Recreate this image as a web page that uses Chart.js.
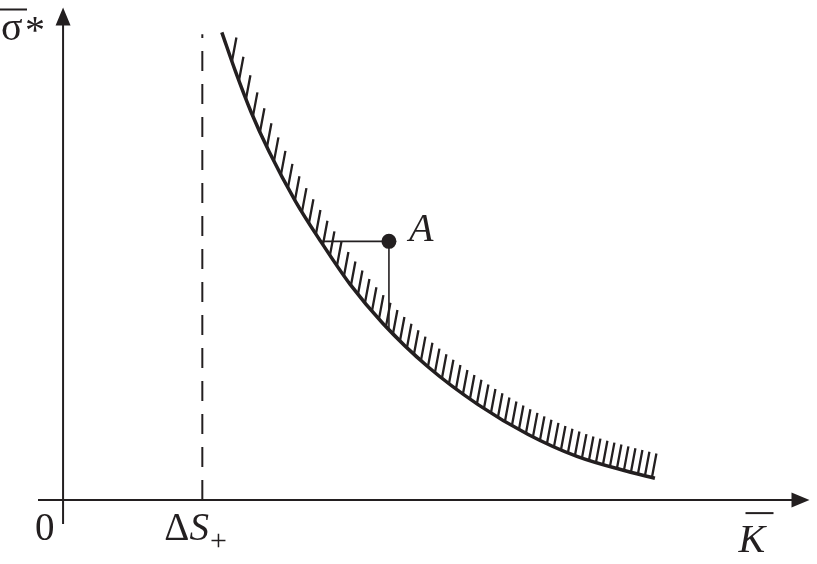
<!DOCTYPE html>
<html>
<head>
<meta charset="utf-8">
<script src="https://cdn.jsdelivr.net/npm/chart.js@4/dist/chart.umd.min.js"></script>
<style>
html,body{margin:0;padding:0;background:#fff;}
#wrap{width:817px;height:564px;position:relative;}
.fl{position:absolute;left:-9999px;top:0;font-family:"Liberation Serif";font-size:38px;}
</style>
</head>
<body>
<div class="fl">σΔS0 <i>KA</i></div>
<div id="wrap"><canvas id="c" width="817" height="564"></canvas></div>
<script>
// ---- data (arbitrary units: ΔS+ = 1 on the K axis) ----
const curveX = [1.14, 1.24, 1.35, 1.48, 1.67, 1.85, 2.06, 2.30, 2.62, 2.98, 3.34, 3.69, 4.05, 4.25];
const curveY = [4.70, 4.30, 3.90, 3.50, 3.00, 2.60, 2.17, 1.77, 1.34, 0.96, 0.66, 0.44, 0.29, 0.22];
const asymX = [1, 1];
const asymY = [0, 4.68];
const pointAX = [2.34];
const pointAY = [2.60];
const guideX = [1.85, 2.34, 2.34];
const guideY = [2.60, 2.60, 1.72];
const xAxisRange = [-0.18, 5.36];
const yAxisRange = [-0.24, 4.95];
const labels = { origin: '0', asym: 'ΔS', asymSub: '+', xTitle: 'K', yTitle: 'σ', yStar: '*', point: 'A' };

const INK = '#231f20';
const SERIF = '"Liberation Serif", "Times New Roman", Tinos, serif';
const toPts = (xs, ys) => xs.map((x, i) => ({ x: x, y: ys[i] }));

const axesPlugin = {
  id: 'axesArrows',
  beforeDatasetsDraw(chart) {
    const { ctx, scales: { x, y } } = chart;
    const x0 = x.getPixelForValue(0), y0 = y.getPixelForValue(0);
    const xl = x.getPixelForValue(xAxisRange[0]), xr = x.getPixelForValue(xAxisRange[1]);
    const yb = y.getPixelForValue(yAxisRange[0]), yt = y.getPixelForValue(yAxisRange[1]);
    ctx.save();
    ctx.strokeStyle = INK; ctx.fillStyle = INK; ctx.lineWidth = 2;
    ctx.beginPath();
    ctx.moveTo(xl, y0); ctx.lineTo(xr - 12, y0);
    ctx.moveTo(x0, yb); ctx.lineTo(x0, yt + 12);
    ctx.stroke();
    ctx.beginPath();
    ctx.moveTo(xr, y0); ctx.lineTo(xr - 18, y0 - 7.5); ctx.lineTo(xr - 18, y0 + 7.5); ctx.closePath();
    ctx.moveTo(x0, yt); ctx.lineTo(x0 - 7.5, yt + 18); ctx.lineTo(x0 + 7.5, yt + 18); ctx.closePath();
    ctx.fill();
    ctx.restore();
  }
};

const hatchPlugin = {
  id: 'hatch',
  afterDatasetsDraw(chart) {
    const pts = chart.getDatasetMeta(0).data;
    const poly = [];
    for (let i = 0; i < pts.length - 1; i++) {
      const p0 = pts[i], p3 = pts[i + 1];
      const p1 = { x: p0.cp2x, y: p0.cp2y }, p2 = { x: p3.cp1x, y: p3.cp1y };
      for (let k = 0; k <= 40; k++) {
        const t = k / 40, u = 1 - t;
        poly.push({
          x: u*u*u*p0.x + 3*u*u*t*p1.x + 3*u*t*t*p2.x + t*t*t*p3.x,
          y: u*u*u*p0.y + 3*u*u*t*p1.y + 3*u*t*t*p2.y + t*t*t*p3.y
        });
      }
    }
    const yAt = (px) => {
      for (let i = 0; i < poly.length - 1; i++) {
        const a = poly[i], b = poly[i + 1];
        if (px >= a.x && px <= b.x && b.x !== a.x) {
          return a.y + (b.y - a.y) * (px - a.x) / (b.x - a.x);
        }
      }
      return null;
    };
    const { ctx } = chart;
    ctx.save();
    ctx.strokeStyle = INK; ctx.lineWidth = 2.3; ctx.lineCap = 'butt';
    ctx.beginPath();
    const first = pts[0].x, last = pts[pts.length - 1].x;
    for (let px = last - 3; px > first + 6; px -= 7) {
      const py = yAt(px);
      if (py === null) continue;
      ctx.moveTo(px, py);
      ctx.lineTo(px + 4.5, py - 24);
    }
    ctx.stroke();
    ctx.restore();
  }
};

const textPlugin = {
  id: 'texts',
  afterDraw(chart) {
    const { ctx, scales: { x, y } } = chart;
    const x0 = x.getPixelForValue(0), y0 = y.getPixelForValue(0);
    const xa = x.getPixelForValue(asymX[0]);
    const xr = x.getPixelForValue(xAxisRange[1]);
    const yt = y.getPixelForValue(yAxisRange[1]);
    const ax = x.getPixelForValue(pointAX[0]), ay = y.getPixelForValue(pointAY[0]);
    ctx.save();
    ctx.fillStyle = INK; ctx.textBaseline = 'alphabetic'; ctx.textAlign = 'left';
    ctx.font = '39px ' + SERIF;
    ctx.fillText(labels.origin, x0 - 28, y0 + 40);
    ctx.font = '39px ' + SERIF;
    let tx = xa - 38;
    ctx.fillText('Δ', tx, y0 + 40);
    tx += ctx.measureText('Δ').width;
    ctx.font = 'italic 39px ' + SERIF;
    ctx.fillText('S', tx, y0 + 40);
    tx += ctx.measureText('S').width + 1;
    ctx.font = '30px ' + SERIF;
    ctx.fillText(labels.asymSub, tx, y0 + 50);
    ctx.font = 'italic 40px ' + SERIF;
    const kx = xr - 71;
    ctx.fillText(labels.xTitle, kx, y0 + 52);
    ctx.fillRect(kx + 7, y0 + 12, 28, 2);
    ctx.font = '40px ' + SERIF;
    ctx.fillText(labels.yTitle, 1, yt + 32);
    ctx.fillText(labels.yStar, 25, yt + 35);
    ctx.fillRect(0, yt + 1, 27, 2);
    ctx.font = 'italic 40px ' + SERIF;
    ctx.fillText(labels.point, ax + 20, ay);
    ctx.restore();
  }
};

function draw() {
  new Chart(document.getElementById('c'), {
    type: 'scatter',
    data: {
      datasets: [
        { data: toPts(curveX, curveY), showLine: true, borderColor: INK, borderWidth: 3.5,
          cubicInterpolationMode: 'monotone', pointRadius: 0, fill: false },
        { data: toPts(asymX, asymY), showLine: true, borderColor: INK, borderWidth: 2,
          borderDash: [20, 13], pointRadius: 0, fill: false },
        { data: toPts(guideX, guideY), showLine: true, borderColor: INK, borderWidth: 1.6,
          pointRadius: 0, fill: false },
        { data: toPts(pointAX, pointAY), showLine: false, pointRadius: 7.5,
          pointBackgroundColor: INK, pointBorderColor: INK, pointBorderWidth: 0 }
      ]
    },
    options: {
      responsive: false,
      animation: false,
      layout: { padding: { left: 38, right: 3, top: 5, bottom: 40 } },
      plugins: { legend: { display: false }, tooltip: { enabled: false } },
      scales: {
        x: { type: 'linear', min: xAxisRange[0], max: xAxisRange[1], display: false },
        y: { type: 'linear', min: yAxisRange[0], max: yAxisRange[1], display: false }
      }
    },
    plugins: [axesPlugin, hatchPlugin, textPlugin]
  });
}
Promise.all([
  document.fonts.load('40px "Liberation Serif"', 'σΔS0'),
  document.fonts.load('italic 40px "Liberation Serif"', 'KAS')
]).then(draw, draw);
</script>
</body>
</html>
